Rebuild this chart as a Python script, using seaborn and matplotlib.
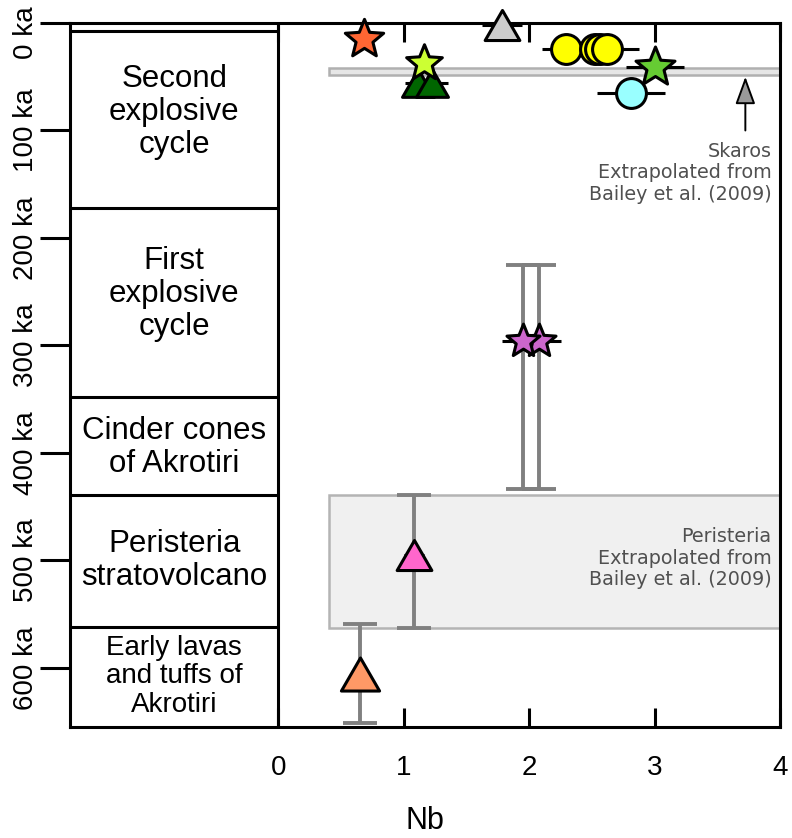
import matplotlib
matplotlib.use("Agg")
import matplotlib.pyplot as plt
from matplotlib.patches import Rectangle
from matplotlib.path import Path
from matplotlib.markers import MarkerStyle
from matplotlib.transforms import ScaledTranslation
import numpy as np
import seaborn as sns

# ---------------- data ----------------
# stratigraphic units of Santorini (ages in ka)
unit_bounds_ka = [0, 7.5, 172, 348, 439, 562, 655]
unit_names = ["",
              "Second\nexplosive\ncycle",
              "First\nexplosive\ncycle",
              "Cinder cones\nof Akrotiri",
              "Peristeria\nstratovolcano",
              "Early lavas\nand tuffs of\nAkrotiri"]

# samples: Nb content vs. age
nb = [0.68, 1.78, 2.29, 2.52, 2.56, 2.62, 1.11, 1.22, 1.16, 3.00, 2.81,
      2.08, 1.95, 1.08, 0.65]
age_ka = [15.0, 1.5, 24.5, 24.5, 24.5, 24.5, 55.5, 55.5, 37.0, 40.6, 64.8,
          296.0, 296.0, 494.6, 606.0]
nb_err = [0.0, 0.16, 0.19, 0.2, 0.2, 0.25, 0.1, 0.13, 0.0, 0.23, 0.27,
          0.17, 0.17, 0.08, 0.0]
age_err_young = [0, 0, 0, 0, 0, 0, 0, 0, 0, 0, 0, 71.0, 71.0, 55.0, 46.5]
age_err_old = [0, 0, 0, 0, 0, 0, 0, 0, 0, 0, 0, 138.0, 138.0, 68.0, 45.5]
shape = ["star", "triangle", "circle", "circle", "circle", "circle",
         "triangle", "triangle", "star", "star", "circle",
         "star", "star", "triangle", "triangle"]
fill = ["#ff6633", "#cccccc", "#ffff00", "#ffff00", "#ffff00", "#ffff00",
        "#006600", "#006600", "#ccff33", "#66cc33", "#99ffff",
        "#cc66cc", "#cc66cc", "#ff66cc", "#ff9966"]

# age ranges extrapolated from Bailey et al. (2009)
skaros_ka = [41.5, 48.5]
peristeria_ka = [439, 563]
xticks = [0, 1, 2, 3, 4]
yticks = [0, 100, 200, 300, 400, 500, 600]
ytick_labels = [f"{v} ka" for v in yticks]

# ---------------- style ----------------
sns.set_theme(style="white")
plt.rcParams["font.family"] = ["Liberation Sans", "DejaVu Sans"]
narrow = ["Liberation Sans Narrow", "Liberation Sans"]

marker_pt = [29, 25, 21.5, 21.5, 21.5, 21.5, 23, 23, 27, 29.5, 21.5,
             25, 25, 25, 27.5]
unit_label_ka = [None, 83, 252, 395, 500, 608]
unit_label_size = [0, 22.5, 22.5, 22.5, 22.5, 20]

tri = MarkerStyle(Path([(-1, -0.866), (1, -0.866), (0, 0.866), (-1, -0.866)],
                       [Path.MOVETO, Path.LINETO, Path.LINETO, Path.CLOSEPOLY]))

# five-pointed star with a slightly fuller body than the built-in one
_ang = np.pi / 2 + np.arange(10) * np.pi / 5
_rad = np.where(np.arange(10) % 2 == 0, 1.0, 0.44)
_star_xy = np.column_stack([_rad * np.cos(_ang), _rad * np.sin(_ang)])
_star_xy = np.vstack([_star_xy, _star_xy[:1]])
star = MarkerStyle(Path(_star_xy, [Path.MOVETO] + [Path.LINETO] * 9 + [Path.CLOSEPOLY]),
                   joinstyle="round")
marker_of = {"star": star, "triangle": tri, "circle": "o"}

XMIN, XMAX = -1.66, 4.0
YMAX = unit_bounds_ka[-1]
LW = 2.2

fig = plt.figure(figsize=(7.92, 8.38), dpi=100)
ax = fig.add_axes([70 / 792, 111 / 838, (780.5 - 70) / 792, (815 - 111) / 838])

# shaded extrapolated ranges
ax.add_patch(Rectangle((0.4, peristeria_ka[0]), XMAX - 0.4,
                       peristeria_ka[1] - peristeria_ka[0],
                       facecolor="#f0f0f0", edgecolor="#b4b4b4", lw=1.8, zorder=1))
ax.add_patch(Rectangle((0.4, skaros_ka[0]), XMAX - 0.4,
                       skaros_ka[1] - skaros_ka[0],
                       facecolor="#e6e6e6", edgecolor="#b0b0b0", lw=1.8, zorder=1))

# stratigraphic column
ax.vlines(0, 0, YMAX, color="black", lw=LW, zorder=2)
ax.hlines(unit_bounds_ka[1:-1], XMIN, 0, color="black", lw=LW, zorder=2)
for name, yc, fs in zip(unit_names, unit_label_ka, unit_label_size):
    if name:
        ax.text(XMIN / 2, yc, name, ha="center", va="center", fontsize=fs,
                linespacing=1.13, color="black", zorder=3)

# error bars
for x, y, ylo, yhi in zip(nb, age_ka, age_err_young, age_err_old):
    if ylo or yhi:
        ax.errorbar([x], [y], yerr=[[ylo], [yhi]], fmt="none", ecolor="#808080",
                    elinewidth=2.8, capsize=12, capthick=2.8, zorder=3)
for x, y, xe in zip(nb, age_ka, nb_err):
    if xe:
        ax.errorbar([x], [y], xerr=[xe], fmt="none", ecolor="black",
                    elinewidth=LW, capsize=0, zorder=4)

# sample symbols
for x, y, shp, col, ms in zip(nb, age_ka, shape, fill, marker_pt):
    sns.scatterplot(x=[x], y=[y], ax=ax, marker=marker_of[shp], s=ms ** 2,
                    color=col, edgecolor="black", linewidth=LW,
                    clip_on=False, zorder=5, legend=False)

# annotations
ax.annotate("", xy=(3.72, 50), xytext=(3.72, 100),
            arrowprops=dict(arrowstyle="-|>,head_length=1.7,head_width=0.62",
                            mutation_scale=10, fc="#999999", ec="black",
                            lw=1.4, shrinkA=0, shrinkB=0), zorder=4)
ax.text(3.93, 139.5, "Skaros\nExtrapolated from\nBailey et al. (2009)",
        ha="right", va="center", fontsize=13.8, color="#505050",
        family="DejaVu Sans", linespacing=1.17, zorder=4)
ax.text(3.93, 498, "Peristeria\nExtrapolated from\nBailey et al. (2009)",
        ha="right", va="center", fontsize=13.8, color="#505050",
        family="DejaVu Sans", linespacing=1.17, zorder=4)

# axes
ax.set_xlim(XMIN, XMAX)
ax.set_ylim(YMAX, 0)
ax.set_xticks(xticks)
ax.set_xticklabels([str(v) for v in xticks], fontsize=20, family=narrow)
ax.set_yticks(yticks)
ax.set_yticklabels(ytick_labels, fontsize=20, family=narrow,
                   rotation=90, va="center", ha="right")
ax.tick_params(axis="x", direction="in", length=13.5, width=LW,
               top=True, bottom=True, pad=20, colors="black")
ax.tick_params(axis="y", direction="out", length=21.5, width=LW,
               left=True, right=False, pad=1, colors="black")
ax.set_xlabel("Nb", fontsize=22, family=narrow, labelpad=18, color="black")
ax.set_ylabel("")
# keep the top label inside the figure
top_lbl = ax.get_yticklabels()[0]
top_lbl.set_transform(top_lbl.get_transform()
                      + ScaledTranslation(0, -10 / 100, fig.dpi_scale_trans))
for sp in ax.spines.values():
    sp.set_linewidth(LW)
    sp.set_color("black")
    sp.set_visible(True)
ax.grid(False)

fig.savefig("out.png", dpi=100)
